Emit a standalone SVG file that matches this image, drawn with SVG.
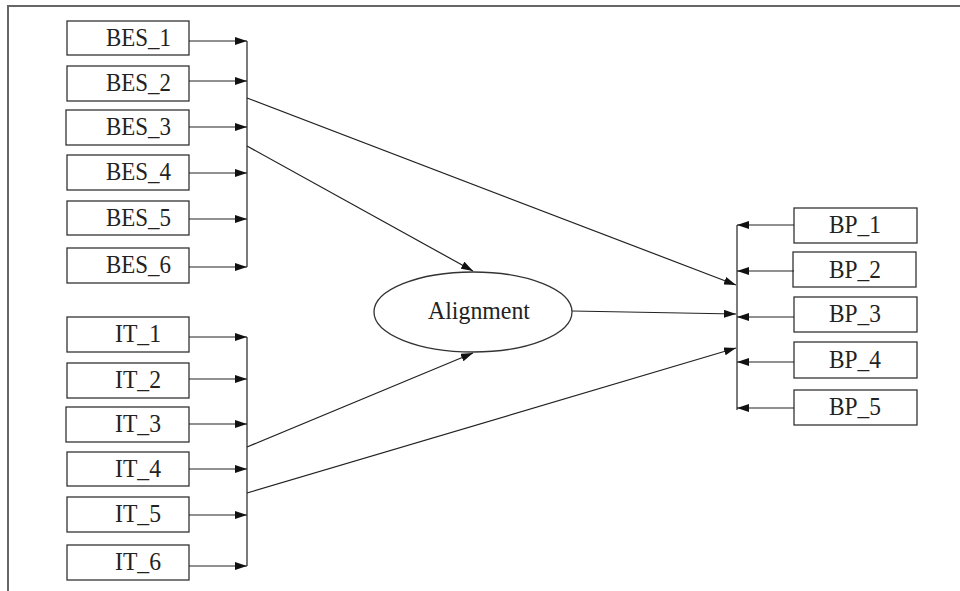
<svg xmlns="http://www.w3.org/2000/svg" width="960" height="591" viewBox="0 0 960 591">
<style>
.box{fill:#fff;stroke:#333;stroke-width:1.3}
.t{font-family:"Liberation Serif","Times New Roman",serif;font-size:26px;fill:#222}
.c{stroke:#222;stroke-width:1.2;fill:none}
.a{stroke:#222;stroke-width:1.2;fill:none;marker-end:url(#ah)}
</style>
<defs>
<marker id="ah" viewBox="0 0 12 8" refX="12" refY="4" markerWidth="12" markerHeight="8" markerUnits="userSpaceOnUse" orient="auto">
<path d="M0,0 L12,4 L0,8 Z" fill="#111"/>
</marker>
</defs>
<rect width="960" height="591" fill="#fff"/>
<path d="M8,591 V6 H960" stroke="#666" stroke-width="2" fill="none"/>
<g id="BES_1"><rect class="box" x="67" y="21" width="122" height="34"/><text class="t" x="106" y="46" textLength="65" lengthAdjust="spacingAndGlyphs">BES_1</text></g>
<g id="BES_2"><rect class="box" x="67" y="66" width="122" height="35"/><text class="t" x="106" y="91" textLength="65" lengthAdjust="spacingAndGlyphs">BES_2</text></g>
<g id="BES_3"><rect class="box" x="66" y="110" width="123" height="35"/><text class="t" x="106" y="135" textLength="65" lengthAdjust="spacingAndGlyphs">BES_3</text></g>
<g id="BES_4"><rect class="box" x="67" y="155" width="122" height="35"/><text class="t" x="106" y="180" textLength="65" lengthAdjust="spacingAndGlyphs">BES_4</text></g>
<g id="BES_5"><rect class="box" x="67" y="201" width="122" height="34"/><text class="t" x="106" y="226" textLength="65" lengthAdjust="spacingAndGlyphs">BES_5</text></g>
<g id="BES_6"><rect class="box" x="67" y="248" width="122" height="35"/><text class="t" x="106" y="273" textLength="65" lengthAdjust="spacingAndGlyphs">BES_6</text></g>
<g id="IT_1"><rect class="box" x="67" y="317" width="122" height="35"/><text class="t" x="115" y="342" textLength="46" lengthAdjust="spacingAndGlyphs">IT_1</text></g>
<g id="IT_2"><rect class="box" x="67" y="363" width="122" height="35"/><text class="t" x="115" y="388" textLength="46" lengthAdjust="spacingAndGlyphs">IT_2</text></g>
<g id="IT_3"><rect class="box" x="66" y="407" width="123" height="35"/><text class="t" x="115" y="432" textLength="46" lengthAdjust="spacingAndGlyphs">IT_3</text></g>
<g id="IT_4"><rect class="box" x="67" y="452" width="122" height="34"/><text class="t" x="115" y="477" textLength="46" lengthAdjust="spacingAndGlyphs">IT_4</text></g>
<g id="IT_5"><rect class="box" x="67" y="497" width="122" height="35"/><text class="t" x="115" y="522" textLength="46" lengthAdjust="spacingAndGlyphs">IT_5</text></g>
<g id="IT_6"><rect class="box" x="67" y="545" width="122" height="35"/><text class="t" x="115" y="570" textLength="46" lengthAdjust="spacingAndGlyphs">IT_6</text></g>
<g id="BP_1"><rect class="box" x="794" y="208" width="123" height="35"/><text class="t" x="829" y="233" textLength="52" lengthAdjust="spacingAndGlyphs">BP_1</text></g>
<g id="BP_2"><rect class="box" x="793" y="252" width="123" height="35"/><text class="t" x="829" y="278" textLength="52" lengthAdjust="spacingAndGlyphs">BP_2</text></g>
<g id="BP_3"><rect class="box" x="794" y="297" width="123" height="35"/><text class="t" x="829" y="322" textLength="52" lengthAdjust="spacingAndGlyphs">BP_3</text></g>
<g id="BP_4"><rect class="box" x="794" y="342" width="123" height="36"/><text class="t" x="829" y="368" textLength="52" lengthAdjust="spacingAndGlyphs">BP_4</text></g>
<g id="BP_5"><rect class="box" x="794" y="390" width="123" height="35"/><text class="t" x="829" y="415" textLength="52" lengthAdjust="spacingAndGlyphs">BP_5</text></g>
<g id="Alignment"><ellipse class="box" cx="473" cy="312" rx="99" ry="40"/><text class="t" x="428" y="319" textLength="102" lengthAdjust="spacingAndGlyphs">Alignment</text></g>
<g id="connectors">
<path class="c" d="M247,41 V267"/>
<path class="c" d="M247,337 V566"/>
<path class="c" d="M737,225 V410"/>
<path class="a" d="M189,41 H247"/>
<path class="a" d="M189,81 H247"/>
<path class="a" d="M189,127 H247"/>
<path class="a" d="M189,173 H247"/>
<path class="a" d="M189,219 H247"/>
<path class="a" d="M189,267 H247"/>
<path class="a" d="M189,337 H247"/>
<path class="a" d="M189,379 H247"/>
<path class="a" d="M189,424 H247"/>
<path class="a" d="M189,469 H247"/>
<path class="a" d="M189,515 H247"/>
<path class="a" d="M189,566 H247"/>
<path class="a" d="M794,225 H737"/>
<path class="a" d="M794,271 H737"/>
<path class="a" d="M794,317 H737"/>
<path class="a" d="M794,362 H737"/>
<path class="a" d="M794,408 H737"/>
<path class="a" d="M247,98 L736,285"/>
<path class="a" d="M247,146 L473,271"/>
<path class="a" d="M247,447 L473,353"/>
<path class="a" d="M247,493 L736,348"/>
<path class="a" d="M572,311 L736,314"/>
</g>
</svg>
